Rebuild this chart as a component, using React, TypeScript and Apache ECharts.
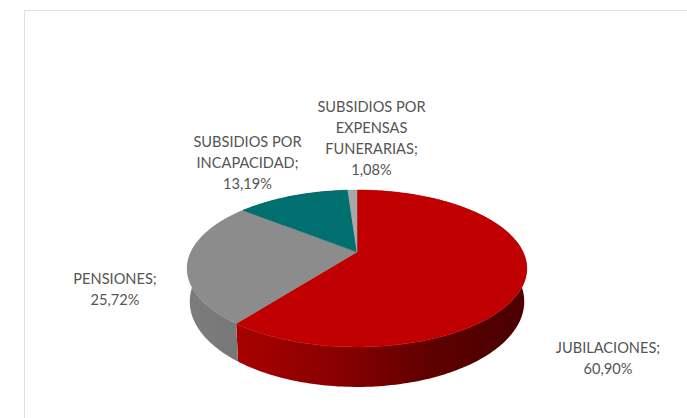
import React, { useEffect, useRef } from "react";
import * as echarts from "echarts";

const categories = ["JUBILACIONES", "PENSIONES", "SUBSIDIOS POR INCAPACIDAD", "SUBSIDIOS POR EXPENSAS FUNERARIAS"];
const values = [60.9, 25.72, 13.19, 1.08];
const percentLabels = ["60,90%", "25,72%", "13,19%", "1,08%"];
const nameLines = [["JUBILACIONES;"], ["PENSIONES;"], ["SUBSIDIOS POR", "INCAPACIDAD;"], ["SUBSIDIOS POR", "EXPENSAS", "FUNERARIAS;"]];

const topColors = ["#c00000", "#8c8c8c", "#006f70", "#a8a8a8"];
const wallColors: any[] = [
  [[0, "#a80000"], [0.35, "#880000"], [0.7, "#5c0000"], [1, "#4a0000"]],
  [[0, "#7c7c7c"], [1, "#777777"]],
  [[0, "#004f50"], [1, "#004f50"]],
  [[0, "#777777"], [1, "#777777"]],
];
const labelCenters = [[608, 358], [115, 288.5], [247.5, 162], [371.5, 138]];

const APEX_X = 357, APEX_Y = 252, A = 166, B = 75, K = 0.21, DEPTH = 31.6, BOTTOM_X = 0.985;

function project(theta: number, lower: boolean): number[] {
  const u = Math.sin(theta), v = -Math.cos(theta), d = 1 - K * v;
  const x = (A * u) / d, y = (B * v) / d;
  return lower ? [APEX_X + x * BOTTOM_X, APEX_Y + y + DEPTH / d] : [APEX_X + x, APEX_Y + y];
}
function arcPoints(a0: number, a1: number, lower: boolean): number[][] {
  const n = Math.max(2, Math.ceil(Math.abs(a1 - a0) / 0.02));
  const pts: number[][] = [];
  for (let i = 0; i <= n; i++) pts.push(project(a0 + ((a1 - a0) * i) / n, lower));
  return pts;
}
const total = values.reduce((s, v) => s + v, 0);
function sliceAngles(idx: number): [number, number] {
  let acc = 0;
  for (let i = 0; i < idx; i++) acc += values[i];
  return [(acc / total) * Math.PI * 2, ((acc + values[idx]) / total) * Math.PI * 2];
}

export default function App() {
  const ref = useRef<HTMLDivElement>(null);
  useEffect(() => {
    document.body.style.margin = "0";
    const chart = echarts.init(ref.current!, null, { renderer: "svg" });
    const data = values.map((v, i) => ({ name: categories[i], value: [v, i] }));
    chart.setOption({
      animation: false,
      backgroundColor: "#ffffff",
      graphic: [
        { type: "rect", silent: true, z: -1, shape: { x: 24.5, y: 10.5, width: 720, height: 450 }, style: { fill: "#fff", stroke: "#e0e0e0", lineWidth: 1 } },
      ],
      series: [
        {
          type: "custom",
          name: "walls",
          coordinateSystem: "none",
          silent: true,
          z: 2,
          data,
          renderItem: (_p: any, api: any) => {
            const i = api.value(1);
            const [a0, a1] = sliceAngles(i);
            const pts = arcPoints(a0, a1, false).concat(arcPoints(a1, a0, true));
            const stops = wallColors[i].map((s: any) => ({ offset: s[0], color: s[1] }));
            return {
              type: "polygon",
              shape: { points: pts },
              style: { fill: new echarts.graphic.LinearGradient(0, 0, 1, 0, stops), stroke: null },
            };
          },
        },
        {
          type: "custom",
          name: "tops",
          coordinateSystem: "none",
          silent: true,
          z: 3,
          data,
          renderItem: (_p: any, api: any) => {
            const i = api.value(1);
            const [a0, a1] = sliceAngles(i);
            const pts = [[APEX_X, APEX_Y]].concat(arcPoints(a0, a1, false));
            const [lx, ly] = labelCenters[i];
            return {
              type: "group",
              children: [
                { type: "polygon", shape: { points: pts }, style: { fill: topColors[i], stroke: topColors[i], lineWidth: 0.5 } },
                {
                  type: "text",
                  x: lx,
                  y: ly,
                  style: {
                    text: nameLines[i].concat(percentLabels[i]).join("\n"),
                    align: "center",
                    verticalAlign: "middle",
                    fontFamily: "Lato",
                    fontSize: 14.6,
                    lineHeight: 21,
                    fill: "#555555",
                  },
                },
              ],
            };
          },
        },
      ],
    });
    return () => chart.dispose();
  }, []);
  return <div ref={ref} style={{ position: "absolute", left: 0, top: 0, width: 687, height: 418 }} />;
}
